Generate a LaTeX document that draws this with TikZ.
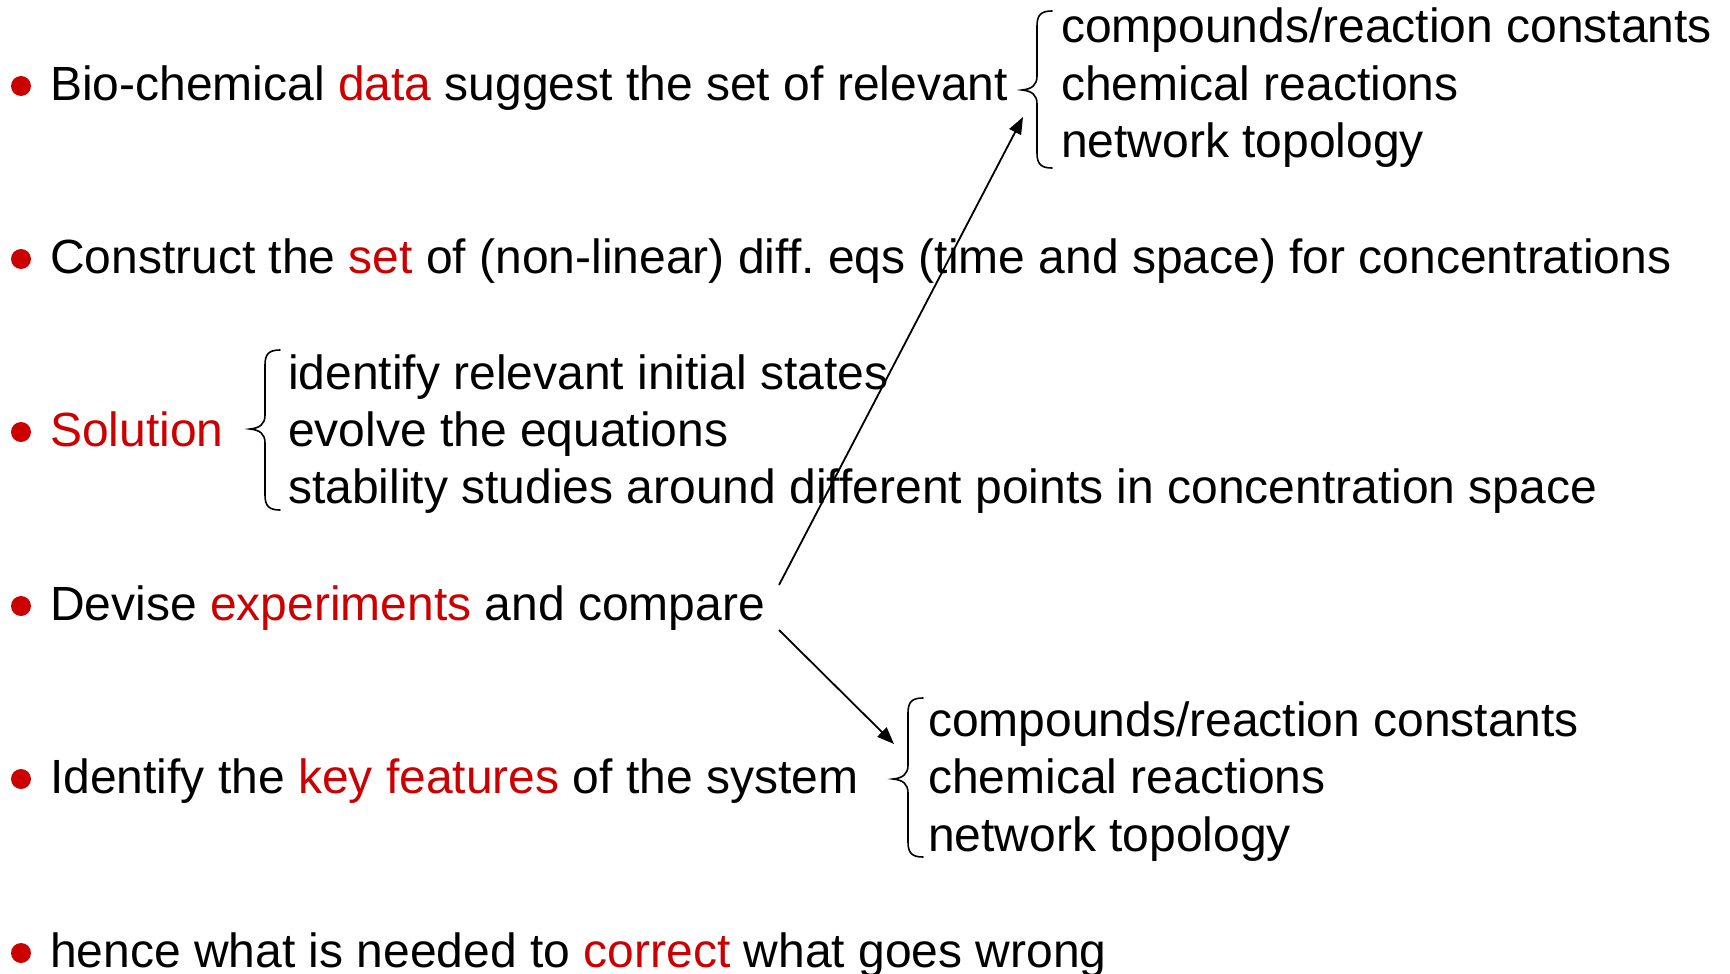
\documentclass[tikz,border=0pt]{standalone}
\usepackage{fontspec}
\setmainfont{Liberation Sans}
\usetikzlibrary{arrows.meta}
\definecolor{hl}{RGB}{204,0,0}
\newcommand{\hlt}[1]{\textcolor{hl}{#1}}
\frenchspacing
\begin{document}
\begin{tikzpicture}[x=1pt,y=-1pt,
  txt/.style={anchor=base west,inner sep=0pt,outer sep=0pt,font=\fontsize{48}{57}\selectfont},
  bul/.style={circle,fill=hl,inner sep=0pt,minimum size=20pt},
  brc/.style={line width=1.6pt,line cap=round},
  arr/.style={line width=1.8pt,-{Triangle[length=17pt,width=13pt]}}]
\useasboundingbox (0,0) rectangle (1730,974);
% bullets
\node[bul] (b1) at (21,86) {};
\node[bul] (b2) at (21,259) {};
\node[bul] (b3) at (21,432) {};
\node[bul] (b4) at (21,606) {};
\node[bul] (b5) at (21,779) {};
\node[bul] (b6) at (21,953) {};
% main rows
\node[txt] (r1) at (50,100) {Bio-chemical \hlt{data} suggest the set of relevant};
\node[txt] (r2) at (50,273) {Construct the \hlt{set} of (non-linear) diff. eqs (time and space) for concentrations};
\node[txt] (r3) at (50,446) {\hlt{Solution}};
\node[txt] (r4) at (50,620) {Devise \hlt{experiments} and compare};
\node[txt] (r5) at (50,793) {Identify the \hlt{key features} of the system};
\node[txt] (r6) at (50,967) {hence what is needed to \hlt{correct} what goes wrong};
% list 1
\node[txt] (l1a) at (1061,43) {compounds/reaction constants};
\node[txt] (l1b) at (1061,100) {chemical reactions};
\node[txt] (l1c) at (1061,157) {network topology};
% list 3
\node[txt] (l3a) at (288,389) {identify relevant initial states};
\node[txt] (l3b) at (288,446) {evolve the equations};
\node[txt] (l3c) at (288,503) {stability studies around different points in concentration space};
% list 5
\node[txt] (l5a) at (928,736) {compounds/reaction constants};
\node[txt] (l5b) at (928,793) {chemical reactions};
\node[txt] (l5c) at (928,851) {network topology};
% braces
\draw[brc] (1052,11) .. controls (1041,11) and (1037,15) .. (1037,26) -- (1037,76)
  .. controls (1037,85) and (1032,89) .. (1022,90)
  .. controls (1032,91) and (1037,95) .. (1037,104) -- (1037,153)
  .. controls (1037,164) and (1041,168) .. (1052,168);
\draw[brc] (280,350) .. controls (269,350) and (265,354) .. (265,365) -- (265,415)
  .. controls (265,424) and (260,428) .. (250,429)
  .. controls (260,430) and (265,434) .. (265,443) -- (265,495)
  .. controls (265,506) and (269,510) .. (280,510);
\draw[brc] (923,698) .. controls (912,698) and (908,702) .. (908,713) -- (908,765)
  .. controls (908,774) and (903,778) .. (893,779)
  .. controls (903,780) and (908,784) .. (908,793) -- (908,842)
  .. controls (908,853) and (912,857) .. (923,857);
% arrows
\coordinate (a1s) at (779,585);
\coordinate (a1e) at (1023,117);
\coordinate (a2s) at (779,630);
\coordinate (a2e) at (894,744);
\draw[arr] (a1s) -- (a1e);
\draw[arr] (a2s) -- (a2e);
\end{tikzpicture}
\end{document}
